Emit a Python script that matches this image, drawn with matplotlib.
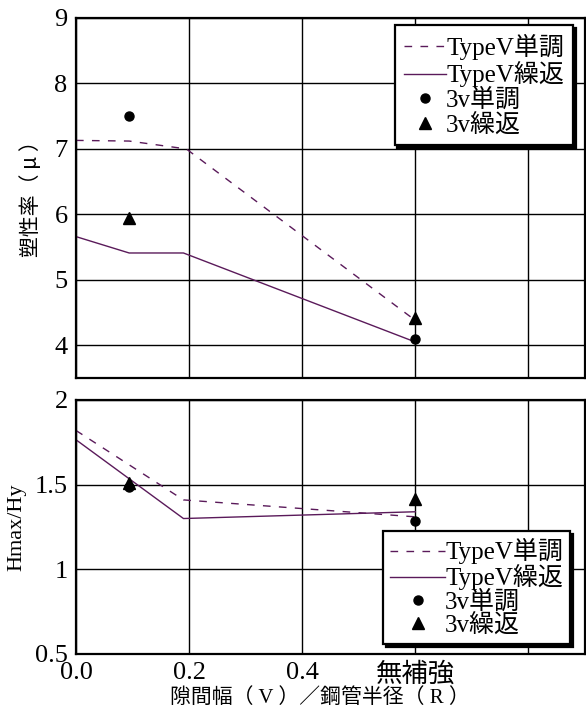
import matplotlib
matplotlib.use("Agg")
import matplotlib.pyplot as plt

# ---- data ----
x_ticks = [0.0, 0.2, 0.4, 0.6, 0.8]
x_tick_labels = ["0.0", "0.2", "0.4", "無補強", ""]

# top: ductility ratio
top_mono_x = [0.0, 0.094, 0.195, 0.6]
top_mono_y = [7.13, 7.12, 7.0, 4.38]
top_cyc_x = [0.0, 0.094, 0.19, 0.6]
top_cyc_y = [5.66, 5.41, 5.41, 4.05]
pt_x = [0.094, 0.6]
top_3v_mono = [7.51, 4.10]
top_3v_cyc = [5.94, 4.41]

# bottom: Hmax/Hy
bot_mono_x = [0.0, 0.19, 0.6]
bot_mono_y = [1.82, 1.41, 1.31]
bot_cyc_x = [0.0, 0.19, 0.6]
bot_cyc_y = [1.765, 1.30, 1.34]
bot_3v_mono = [1.484, 1.285]
bot_3v_cyc = [1.51, 1.415]

labels = ["TypeV単調", "TypeV繰返", "3v単調", "3v繰返"]

FAM = ["Liberation Serif", "Noto Sans CJK JP", "DejaVu Sans"]
CJK = ["Noto Sans CJK JP", "DejaVu Sans"]
plt.rcParams['font.family'] = FAM
LC = '#5a1a5a'

W, H = 586, 715
fig = plt.figure(figsize=(W / 100, H / 100), dpi=100)

def px_axes(l, t, r, b):
    return fig.add_axes([l / W, 1 - b / H, (r - l) / W, (b - t) / H])

ax1 = px_axes(76, 18, 585, 378)
ax2 = px_axes(76, 400, 585, 654)

def style(ax, ylim, yticks, ylabels):
    ax.set_xlim(0, 0.9)
    ax.set_ylim(*ylim)
    ax.set_xticks(x_ticks)
    ax.set_yticks(yticks)
    ax.set_yticklabels(ylabels)
    ax.grid(True, color='black', linewidth=1.0)
    ax.set_axisbelow(True)
    for s in ax.spines.values():
        s.set_linewidth(1.6)
        s.set_color('black')
    ax.tick_params(length=0, labelsize=19, pad=6)

def draw(ax, mx, my, cx, cy, m3, c3):
    ax.plot(mx, my, color=LC, lw=1.0, dashes=(5.5, 6.0), label=labels[0])
    ax.plot(cx, cy, color=LC, lw=1.0, label=labels[1])
    ax.plot(pt_x, m3, 'o', color='black', ms=6.5, label=labels[2])
    ax.plot(pt_x, c3, '^', color='black', ms=8, label=labels[3])

draw(ax1, top_mono_x, top_mono_y, top_cyc_x, top_cyc_y, top_3v_mono, top_3v_cyc)
draw(ax2, bot_mono_x, bot_mono_y, bot_cyc_x, bot_cyc_y, bot_3v_mono, bot_3v_cyc)

style(ax1, (3.5, 9), [4, 5, 6, 7, 8, 9], ["4", "5", "6", "7", "8", "9"])
ax1.set_xticklabels([])
style(ax2, (0.5, 2), [0.5, 1, 1.5, 2], ["0.5", "1", "1.5", "2"])
ax2.set_xticklabels(x_tick_labels)

def legend(ax, loc, anchor, hl, bp, ls):
    lg = ax.legend(loc=loc, bbox_to_anchor=anchor, borderaxespad=0,
                   prop={'family': FAM, 'size': 18}, handlelength=hl,
                   handletextpad=0.0, labelspacing=ls, borderpad=bp,
                   fancybox=False, framealpha=1, edgecolor='black',
                   shadow={'color': 'black', 'alpha': 1})
    lg.get_frame().set_linewidth(1.6)
    return lg

legend(ax1, 'upper right', (1 - 12 / 509, 1 - 7 / 360), 1.7, 0.36, 0.05)
legend(ax2, 'lower right', (1 - 15 / 509, 10 / 254), 2.2, 0.28, 0.0)

fig.text(31 / W, 1 - 194 / H, "塑性率（ μ ）", rotation=90, ha='center',
         va='center', fontsize=15, family=CJK)
fig.text(17 / W, 1 - 527 / H, "Hmax/Hy", rotation=90, ha='center',
         va='center', fontsize=16, family=FAM)
fig.text(320 / W, 1 - 698 / H, "隙間幅（ V ）／鋼管半径（ R ）", ha='center',
         va='center', fontsize=15, family=FAM)

fig.savefig("out.png", dpi=100)
